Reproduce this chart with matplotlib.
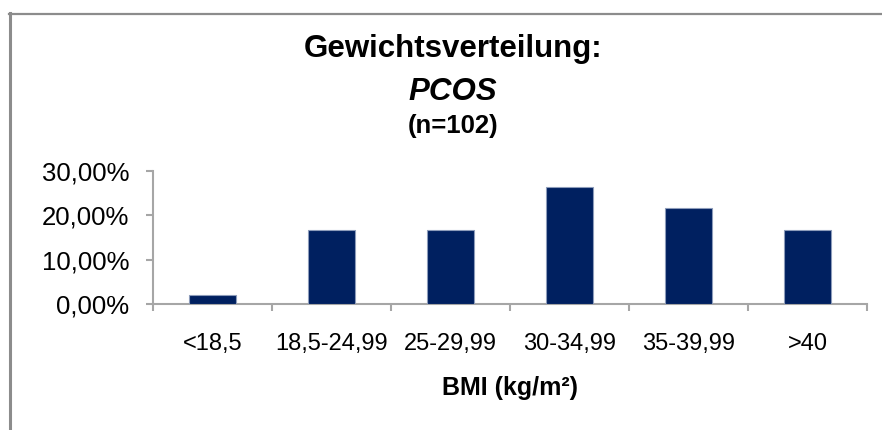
import matplotlib
matplotlib.use("Agg")
import matplotlib.pyplot as plt
from matplotlib.lines import Line2D
from matplotlib.ticker import FuncFormatter, FixedLocator

plt.rcParams['font.family'] = ['Liberation Sans', 'DejaVu Sans']

categories = ['<18,5', '18,5-24,99', '25-29,99', '30-34,99', '35-39,99', '>40']
shares = [0.0196, 0.1667, 0.1667, 0.2647, 0.2157, 0.1667]
y_ticks = [0.0, 0.10, 0.20, 0.30]

W, H = 882, 430
fig = plt.figure(figsize=(W / 100, H / 100), dpi=100)
ax = fig.add_axes([153 / W, (H - 304) / H, 714 / W, 133 / H])

x = list(range(len(categories)))
ax.bar(x, shares, width=0.40, color='#002060', edgecolor='#8D9CBA', linewidth=0.8, zorder=3)

ax.set_xlim(-0.5, len(categories) - 0.5)
ax.set_ylim(0, 0.30)

axis_grey = '#A6A6A6'
for side in ('top', 'right'):
    ax.spines[side].set_visible(False)
for side in ('left', 'bottom'):
    ax.spines[side].set_color(axis_grey)
    ax.spines[side].set_linewidth(1.5)

ax.set_yticks(y_ticks)
ax.yaxis.set_major_formatter(FuncFormatter(lambda v, p: f"{v * 100:.2f}%".replace('.', ',')))
ax.tick_params(axis='y', direction='out', length=5, width=1.5, color=axis_grey,
               labelsize=18.5, pad=12, labelcolor='black')

ax.set_xticks(x)
ax.set_xticklabels(categories)
ax.xaxis.set_minor_locator(FixedLocator([i - 0.5 for i in range(len(categories) + 1)]))
ax.tick_params(axis='x', which='major', length=0, labelsize=17, pad=21, labelcolor='black')
ax.tick_params(axis='x', which='minor', direction='out', length=5, width=1.5, color=axis_grey)

ax.set_xlabel('BMI (kg/m²)', fontsize=18, fontweight='bold', labelpad=15)

# title block
cx = 453 / W
fig.text(cx, 1 - 57 / H, 'Gewichtsverteilung:', ha='center', va='baseline',
         fontsize=22.5, fontweight='bold')
fig.text(cx, 1 - 100 / H, 'PCOS', ha='center', va='baseline',
         fontsize=22.5, fontweight='bold', fontstyle='italic')
fig.text(cx, 1 - 133 / H, '(n=102)', ha='center', va='baseline',
         fontsize=18.5, fontweight='bold')

# chart area frame
frame = '#8C8C8C'
fig.add_artist(Line2D([9.5 / W, 9.5 / W], [0, 1 - 13 / H], color=frame, linewidth=2.2,
                      transform=fig.transFigure))
fig.add_artist(Line2D([8.5 / W, 1], [1 - 14 / H, 1 - 14 / H], color=frame, linewidth=1.6,
                      transform=fig.transFigure))

fig.savefig('out.png', dpi=100, facecolor='white')
